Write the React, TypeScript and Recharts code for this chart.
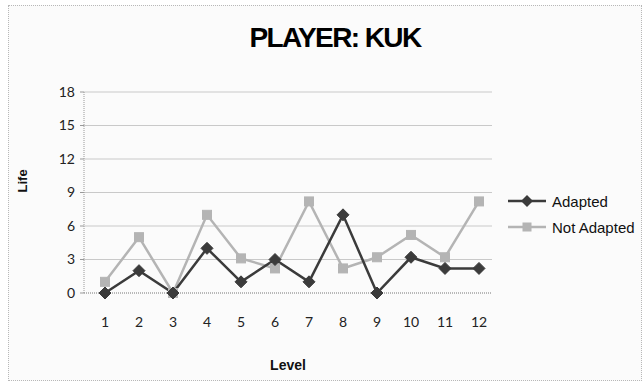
import React from 'react';
import { LineChart, Line, XAxis, YAxis, CartesianGrid, Legend } from 'recharts';

const levels = ['1', '2', '3', '4', '5', '6', '7', '8', '9', '10', '11', '12'];
const adapted = [0, 2, 0, 4, 1, 3, 1, 7, 0, 3.2, 2.2, 2.2];
const notAdapted = [1, 5, 0, 7, 3.1, 2.2, 8.2, 2.2, 3.2, 5.2, 3.2, 8.2];
const lifeTicks = [0, 3, 6, 9, 12, 15, 18];

const data = levels.map((level, i) => ({
    level,
    adapted: adapted[i],
    notAdapted: notAdapted[i],
}));

const DARK = '#3b3b3b';
const LIGHT = '#b4b4b4';
const tickFont = { fill: '#222', fontSize: 14, fontFamily: 'Lato, "DejaVu Sans", sans-serif' };

// diamond marker for the dark series
const Diamond = (props: any) => {
    const { cx, cy } = props;
    if (cx == null || cy == null) return null;
    const r = 6;
    return <path d={`M${cx},${cy - r}L${cx + r},${cy}L${cx},${cy + r}L${cx - r},${cy}Z`} fill={DARK} stroke={DARK} />;
};

// square marker for the light series
const Square = (props: any) => {
    const { cx, cy } = props;
    if (cx == null || cy == null) return null;
    const s = 4.5;
    return <rect x={cx - s} y={cy - s} width={s * 2} height={s * 2} fill={LIGHT} stroke={LIGHT} />;
};

const LegendBox = () => (
    <div style={{ fontFamily: '"Liberation Sans", Arial, sans-serif', fontSize: 15, color: '#111' }}>
        <div style={{ display: 'flex', alignItems: 'center', height: 26 }}>
            <svg width={40} height={14}>
                <line x1={0} y1={7} x2={38} y2={7} stroke={DARK} strokeWidth={2.5} />
                <path d="M19,1L25,7L19,13L13,7Z" fill={DARK} />
            </svg>
            <span style={{ marginLeft: 4 }}>Adapted</span>
        </div>
        <div style={{ display: 'flex', alignItems: 'center', height: 26 }}>
            <svg width={40} height={14}>
                <line x1={0} y1={7} x2={38} y2={7} stroke={LIGHT} strokeWidth={2.5} />
                <rect x={14.5} y={2.5} width={9} height={9} fill={LIGHT} />
            </svg>
            <span style={{ marginLeft: 4, whiteSpace: 'nowrap' }}>Not Adapted</span>
        </div>
    </div>
);

const App: React.FC = () => {
    return (
        <div style={{ position: 'absolute', left: 0, top: 0, width: 643, height: 382, background: '#fff' }}>
            <div
                style={{
                    position: 'absolute',
                    left: 8,
                    top: 5,
                    width: 632,
                    height: 374,
                    border: '1px dotted #b8b8b8',
                    background: '#fbfbfb',
                }}
            />
            <div
                style={{
                    position: 'absolute',
                    left: 235,
                    top: 22,
                    width: 200,
                    textAlign: 'center',
                    fontFamily: '"Liberation Sans", Arial, sans-serif',
                    fontWeight: 'bold',
                    fontSize: 28,
                    letterSpacing: -1.6,
                    color: '#000',
                    whiteSpace: 'nowrap',
                }}
            >
                PLAYER: KUK
            </div>
            <div style={{ position: 'absolute', left: 0, top: 0 }}>
                {/* legend is placed absolutely, so the bottom margin leaves out its measured height */}
                <LineChart width={643} height={382} data={data} margin={{ top: 92, right: 151, bottom: 7, left: 24 }}>
                    <CartesianGrid vertical={false} stroke="#c9c9c9" horizontalValues={[3, 6, 9, 12, 15, 18]} />
                    <XAxis
                        dataKey="level"
                        padding={{ left: 21, right: 13 }}
                        tick={tickFont}
                        tickLine={false}
                        axisLine={{ stroke: '#777', strokeDasharray: '1 1' }}
                        height={30}
                        tickMargin={18}
                        label={{
                            value: 'Level',
                            position: 'insideBottom',
                            offset: -47,
                            fill: '#111',
                            fontSize: 14,
                            fontWeight: 'bold',
                            fontFamily: '"Liberation Sans", Arial, sans-serif',
                        }}
                    />
                    <YAxis
                        domain={[0, 18]}
                        ticks={lifeTicks}
                        interval={0}
                        width={60}
                        tick={tickFont}
                        tickSize={4}
                        tickMargin={5}
                        tickLine={{ stroke: '#999' }}
                        axisLine={{ stroke: '#999', strokeDasharray: '1 1' }}
                        label={{
                            value: 'Life',
                            angle: -90,
                            position: 'insideLeft',
                            offset: -2,
                            fill: '#111',
                            fontSize: 13,
                            fontWeight: 'bold',
                            fontFamily: '"Liberation Sans", Arial, sans-serif',
                        }}
                    />
                    <Legend
                        content={() => <LegendBox />}
                        wrapperStyle={{ position: 'absolute', left: 508, top: 188, width: 135 }}
                    />
                    <Line
                        dataKey="notAdapted"
                        stroke={LIGHT}
                        strokeWidth={2.5}
                        dot={<Square />}
                        isAnimationActive={false}
                    />
                    <Line
                        dataKey="adapted"
                        stroke={DARK}
                        strokeWidth={2.5}
                        dot={<Diamond />}
                        isAnimationActive={false}
                    />
                </LineChart>
            </div>
        </div>
    );
};

export default App;
